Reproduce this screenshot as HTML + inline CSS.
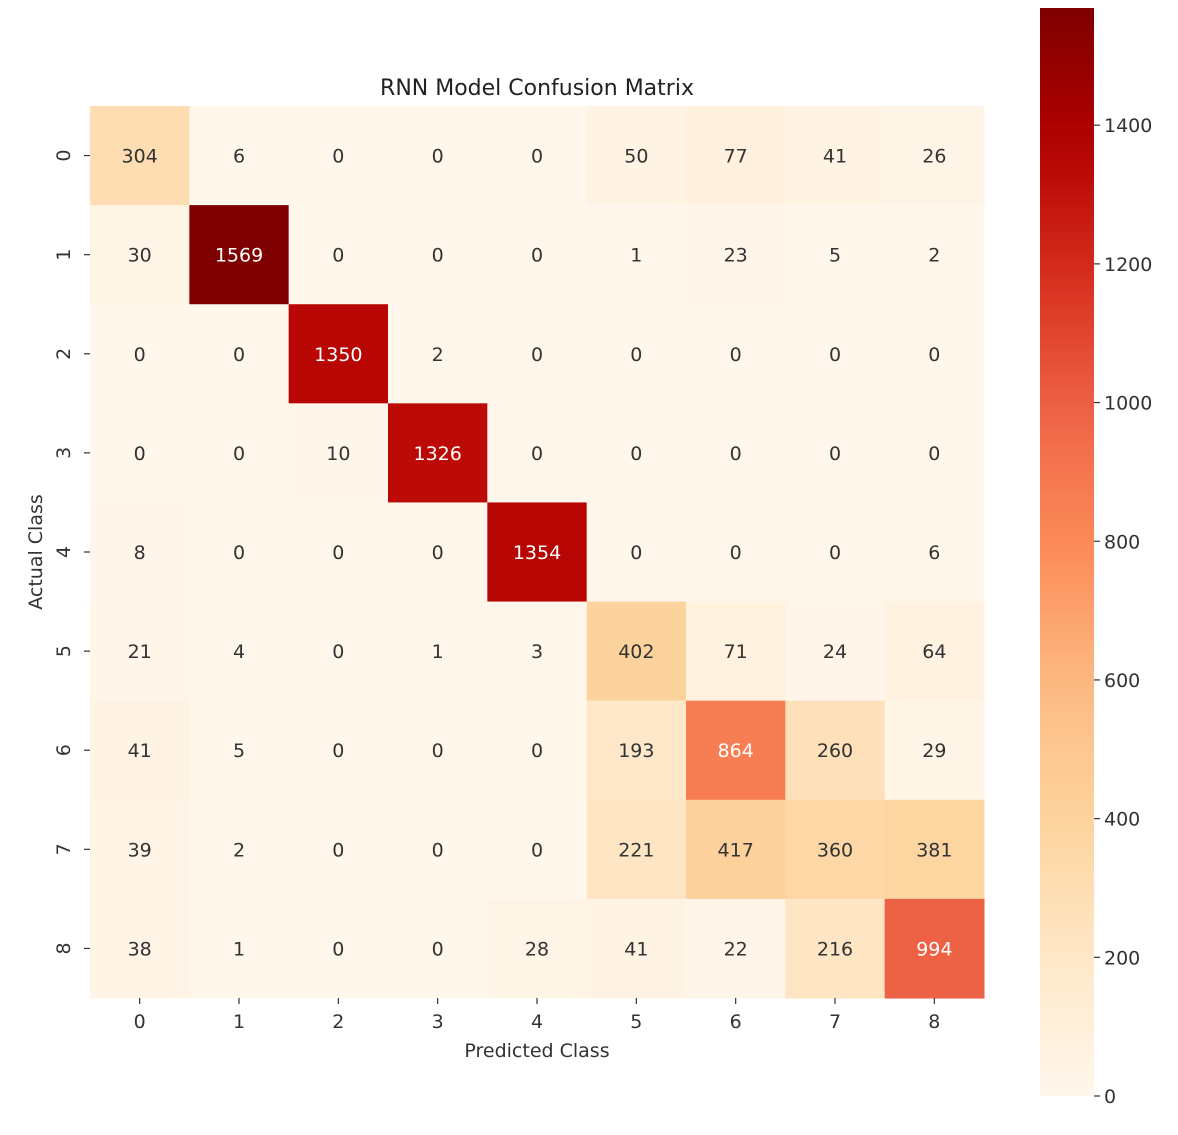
<!DOCTYPE html>
<html><head><meta charset="utf-8"><style>
body{margin:0;background:#fff;font-family:"Liberation Sans","DejaVu Sans",sans-serif;}
svg text{font-family:"DejaVu Sans","Liberation Sans",sans-serif;}
</style></head><body>
<svg id="chart" width="1178" height="1130" xmlns="http://www.w3.org/2000/svg"></svg>
<script>
const classes=["0","1","2","3","4","5","6","7","8"];
const row0=[304,6,0,0,0,50,77,41,26];
const row1=[30,1569,0,0,0,1,23,5,2];
const row2=[0,0,1350,2,0,0,0,0,0];
const row3=[0,0,10,1326,0,0,0,0,0];
const row4=[8,0,0,0,1354,0,0,0,6];
const row5=[21,4,0,1,3,402,71,24,64];
const row6=[41,5,0,0,0,193,864,260,29];
const row7=[39,2,0,0,0,221,417,360,381];
const row8=[38,1,0,0,28,41,22,216,994];
const cbTicks=[0,200,400,600,800,1000,1200,1400];
const matrix=[row0,row1,row2,row3,row4,row5,row6,row7,row8];

const NS="http://www.w3.org/2000/svg";
const svg=document.getElementById('chart');
function mk(t,a,p){const e=document.createElementNS(NS,t);for(const k in a)e.setAttribute(k,a[k]);(p||svg).appendChild(e);return e;}
const vmax=Math.max(...matrix.flat()), vmin=0;
const stops=["#fff7ec","#fee8c8","#fdd49e","#fdbb84","#fc8d59","#ef6548","#d7301f","#b30000","#7f0000"];
function hex(h){return [1,3,5].map(i=>parseInt(h.substr(i,2),16));}
function color(v){let t=Math.max(0,Math.min(1,(v-vmin)/(vmax-vmin)))*(stops.length-1);let i=Math.min(Math.floor(t),stops.length-2),f=t-i;const a=hex(stops[i]),b=hex(stops[i+1]);return "rgb("+a.map((x,j)=>Math.round(x+(b[j]-x)*f)).join(",")+")";}
const X0=90,Y0=106,W=894,H=892,n=classes.length,cw=W/n,ch=H/n;
const xPos=i=>X0+i*cw, yPos=i=>Y0+i*ch;

const title=mk('text',{x:X0+W/2,y:95,'text-anchor':'middle','font-size':22,fill:'#222'});title.textContent="RNN Model Confusion Matrix";



matrix.forEach((row,r)=>row.forEach((v,c)=>{
  const rc=mk('rect',{x:xPos(c),y:yPos(r),width:cw+0.5,height:ch+0.5,fill:color(v)});
  
  
  const t=mk('text',{x:xPos(c)+cw/2,y:yPos(r)+ch/2+7,'text-anchor':'middle','font-size':19,fill:v/vmax>0.5?'#fff':'#333'});
  t.textContent=v;
  
  
}));

classes.forEach((lab,i)=>{
  mk('line',{x1:xPos(i)+cw/2,x2:xPos(i)+cw/2,y1:Y0+H,y2:Y0+H+6,stroke:'#333','stroke-width':1.2});
  const t=mk('text',{x:xPos(i)+cw/2,y:Y0+H+30,'text-anchor':'middle','font-size':19,fill:'#333'});t.textContent=lab;
  
  
  mk('line',{x1:X0-6,x2:X0,y1:yPos(i)+ch/2,y2:yPos(i)+ch/2,stroke:'#333','stroke-width':1.2});
  const cy=yPos(i)+ch/2,cx=X0-20;
  const t2=mk('text',{x:cx,y:cy,'text-anchor':'middle','font-size':19,fill:'#333',transform:'rotate(-90 '+cx+' '+cy+')'});t2.textContent=lab;
  
  
});
const xt=mk('text',{x:X0+W/2,y:1057,'text-anchor':'middle','font-size':19,fill:'#333'});xt.textContent="Predicted Class";


const yt=mk('text',{x:42,y:Y0+H/2,'text-anchor':'middle','font-size':19,fill:'#333',transform:'rotate(-90 42 '+(Y0+H/2)+')'});yt.textContent="Actual Class";



// colorbar
const CX=1040,CW=54,CT=8,CB=1096;
const cbY=v=>CB-(v-vmin)/(vmax-vmin)*(CB-CT);
const defs=mk('defs',{});
const g=mk('linearGradient',{id:'cg',x1:0,y1:1,x2:0,y2:0},defs);
for(let k=0;k<=20;k++){mk('stop',{offset:(k/20),'stop-color':color(vmin+(vmax-vmin)*k/20)},g);}
const cb=mk('rect',{x:CX,y:CT,width:CW,height:CB-CT,fill:'url(#cg)'});


cbTicks.forEach(v=>{
  const y=cbY(v);
  mk('line',{x1:CX+CW,x2:CX+CW+6,y1:y,y2:y,stroke:'#333','stroke-width':1.2});
  const t=mk('text',{x:CX+CW+10,y:y+7,'font-size':19,fill:'#333'});t.textContent=v;
  
  
});
</script>
</body></html>
